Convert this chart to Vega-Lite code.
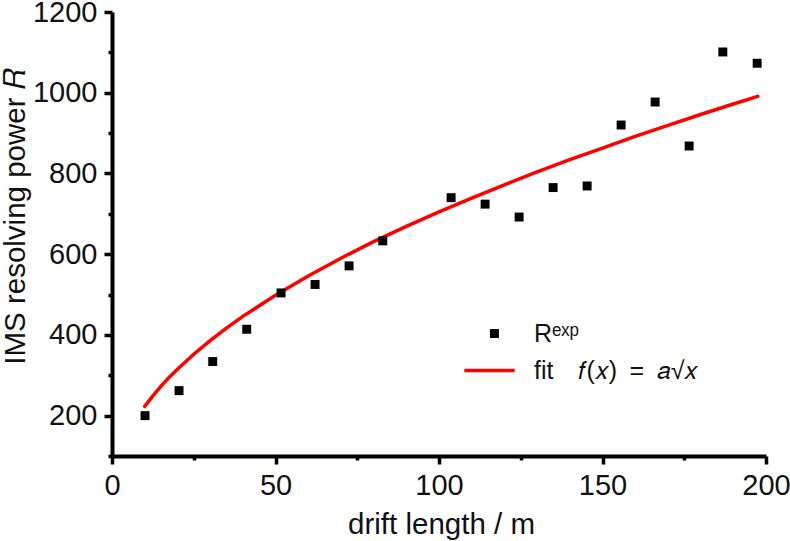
{
  "$schema": "https://vega.github.io/schema/vega-lite/v6.json",
  "width": 654,
  "height": 444,
  "autosize": "none",
  "padding": {"left": 112, "top": 12, "right": 24, "bottom": 85},
  "background": "white",
  "config": {
    "view": {"stroke": null},
    "font": "Liberation Sans",
    "axis": {
      "domainColor": "black",
      "domainWidth": 4,
      "tickColor": "black",
      "tickWidth": 3.5,
      "labelColor": "#111111",
      "titleColor": "#111111",
      "labelFont": "Liberation Sans",
      "titleFont": "Liberation Sans",
      "labelFontSize": 29,
      "titleFontSize": 29.5,
      "titleFontWeight": "normal",
      "grid": false
    }
  },
  "datasets": {
    "exp": [
      {"x": 10.1, "R": 200, "series": "Rexp"},
      {"x": 20.5, "R": 262, "series": "Rexp"},
      {"x": 30.8, "R": 334, "series": "Rexp"},
      {"x": 41.2, "R": 414, "series": "Rexp"},
      {"x": 51.7, "R": 504, "series": "Rexp"},
      {"x": 62.1, "R": 525, "series": "Rexp"},
      {"x": 72.5, "R": 571, "series": "Rexp"},
      {"x": 82.8, "R": 633, "series": "Rexp"},
      {"x": 103.7, "R": 740, "series": "Rexp"},
      {"x": 114.1, "R": 724, "series": "Rexp"},
      {"x": 124.5, "R": 692, "series": "Rexp"},
      {"x": 134.9, "R": 765, "series": "Rexp"},
      {"x": 145.3, "R": 769, "series": "Rexp"},
      {"x": 155.7, "R": 920, "series": "Rexp"},
      {"x": 166.1, "R": 977, "series": "Rexp"},
      {"x": 176.5, "R": 868, "series": "Rexp"},
      {"x": 186.8, "R": 1101, "series": "Rexp"},
      {"x": 197.3, "R": 1073, "series": "Rexp"}
    ],
    "fit": [
      {"x": 10, "R": 223, "series": "fit"},
      {"x": 12.5, "R": 249, "series": "fit"},
      {"x": 15, "R": 273, "series": "fit"},
      {"x": 17.5, "R": 295, "series": "fit"},
      {"x": 20, "R": 315, "series": "fit"},
      {"x": 25, "R": 352, "series": "fit"},
      {"x": 30, "R": 386, "series": "fit"},
      {"x": 35, "R": 417, "series": "fit"},
      {"x": 40, "R": 446, "series": "fit"},
      {"x": 50, "R": 498, "series": "fit"},
      {"x": 60, "R": 546, "series": "fit"},
      {"x": 70, "R": 590, "series": "fit"},
      {"x": 80, "R": 631, "series": "fit"},
      {"x": 90, "R": 669, "series": "fit"},
      {"x": 100, "R": 705, "series": "fit"},
      {"x": 110, "R": 739, "series": "fit"},
      {"x": 120, "R": 772, "series": "fit"},
      {"x": 130, "R": 804, "series": "fit"},
      {"x": 140, "R": 834, "series": "fit"},
      {"x": 150, "R": 863, "series": "fit"},
      {"x": 160, "R": 892, "series": "fit"},
      {"x": 170, "R": 919, "series": "fit"},
      {"x": 180, "R": 946, "series": "fit"},
      {"x": 190, "R": 972, "series": "fit"},
      {"x": 197.5, "R": 991, "series": "fit"}
    ]
  },
  "layer": [
    {
      "data": {"name": "fit"},
      "mark": {"type": "line", "strokeWidth": 3.5, "strokeCap": "round"},
      "encoding": {
        "x": {
          "field": "x", "type": "quantitative",
          "scale": {"domain": [0, 200], "nice": false, "zero": false},
          "axis": {"orient": "bottom", "values": [25, 75, 125, 175], "labels": false, "domain": false, "tickSize": 4, "title": null}
        },
        "y": {
          "field": "R", "type": "quantitative",
          "scale": {"domain": [100, 1200], "nice": false, "zero": false},
          "axis": {"orient": "left", "values": [100, 300, 500, 700, 900, 1100], "labels": false, "domain": false, "tickSize": 4, "title": null}
        },
        "color": {
          "field": "series", "type": "nominal",
          "scale": {"domain": ["Rexp", "fit"], "range": ["#000000", "#ff0000"]},
          "legend": {
            "title": null, "orient": "none", "legendX": 365, "legendY": 309, "padding": 0,
            "symbolSize": 1296, "labelFontSize": 25, "labelFont": "Liberation Sans", "labelColor": "#111111",
            "labelOffset": 32, "rowPadding": 11, "labelLimit": 400,
            "labelExpr": "datum.value === 'fit' ? 'fit\u2002\u2002𝑓(𝑥)\u2002=\u2002𝑎√𝑥' : 'Rᵉˣᵖ'",
            "encode": {"symbols": {"update": {
              "shape": {"signal": "datum.value === 'fit' ? 'M-1.4,0H1.4' : 'M0.1,-1H2.1V1H0.1Z'"},
              "size": {"signal": "datum.value === 'fit' ? 1296 : 80"},
              "fill": {"signal": "datum.value === 'fit' ? 'transparent' : 'black'"},
              "stroke": {"signal": "datum.value === 'fit' ? '#ff0000' : 'black'"},
              "strokeWidth": {"signal": "datum.value === 'fit' ? 3.5 : 0"},
              "opacity": {"value": 1}
            }}}
          }
        }
      }
    },
    {
      "data": {"name": "exp"},
      "mark": {"type": "point", "shape": "square", "filled": true, "size": 80, "opacity": 1},
      "encoding": {
        "x": {
          "field": "x", "type": "quantitative",
          "scale": {"domain": [0, 200], "nice": false, "zero": false},
          "axis": {"orient": "bottom", "values": [0, 50, 100, 150, 200], "format": "d", "tickSize": 8, "labelPadding": 7, "labelFlush": false, "labelOverlap": false,
                   "title": "drift length / m", "titleBaseline": "alphabetic", "titleY": 77, "titleX": 329}
        },
        "y": {
          "field": "R", "type": "quantitative",
          "scale": {"domain": [100, 1200], "nice": false, "zero": false},
          "axis": {"orient": "left", "values": [200, 400, 600, 800, 1000, 1200], "format": "d", "tickSize": 8, "labelPadding": 7, "labelFlush": false, "labelOverlap": false,
                   "title": "IMS resolving power 𝑅", "titleAngle": 270, "titleBaseline": "alphabetic", "titleAlign": "center", "titleX": -88, "titleY": 204}
        },
        "color": {
          "field": "series", "type": "nominal",
          "scale": {"domain": ["Rexp", "fit"], "range": ["#000000", "#ff0000"]},
          "legend": {
            "title": null, "orient": "none", "legendX": 365, "legendY": 309, "padding": 0,
            "symbolSize": 1296, "labelFontSize": 25, "labelFont": "Liberation Sans", "labelColor": "#111111",
            "labelOffset": 32, "rowPadding": 11, "labelLimit": 400,
            "labelExpr": "datum.value === 'fit' ? 'fit\u2002\u2002𝑓(𝑥)\u2002=\u2002𝑎√𝑥' : 'Rᵉˣᵖ'",
            "encode": {"symbols": {"update": {
              "shape": {"signal": "datum.value === 'fit' ? 'M-1.4,0H1.4' : 'M0.1,-1H2.1V1H0.1Z'"},
              "size": {"signal": "datum.value === 'fit' ? 1296 : 80"},
              "fill": {"signal": "datum.value === 'fit' ? 'transparent' : 'black'"},
              "stroke": {"signal": "datum.value === 'fit' ? '#ff0000' : 'black'"},
              "strokeWidth": {"signal": "datum.value === 'fit' ? 3.5 : 0"},
              "opacity": {"value": 1}
            }}}
          }
        }
      }
    }
  ],
  "resolve": {"axis": {"x": "independent", "y": "independent"}}
}
